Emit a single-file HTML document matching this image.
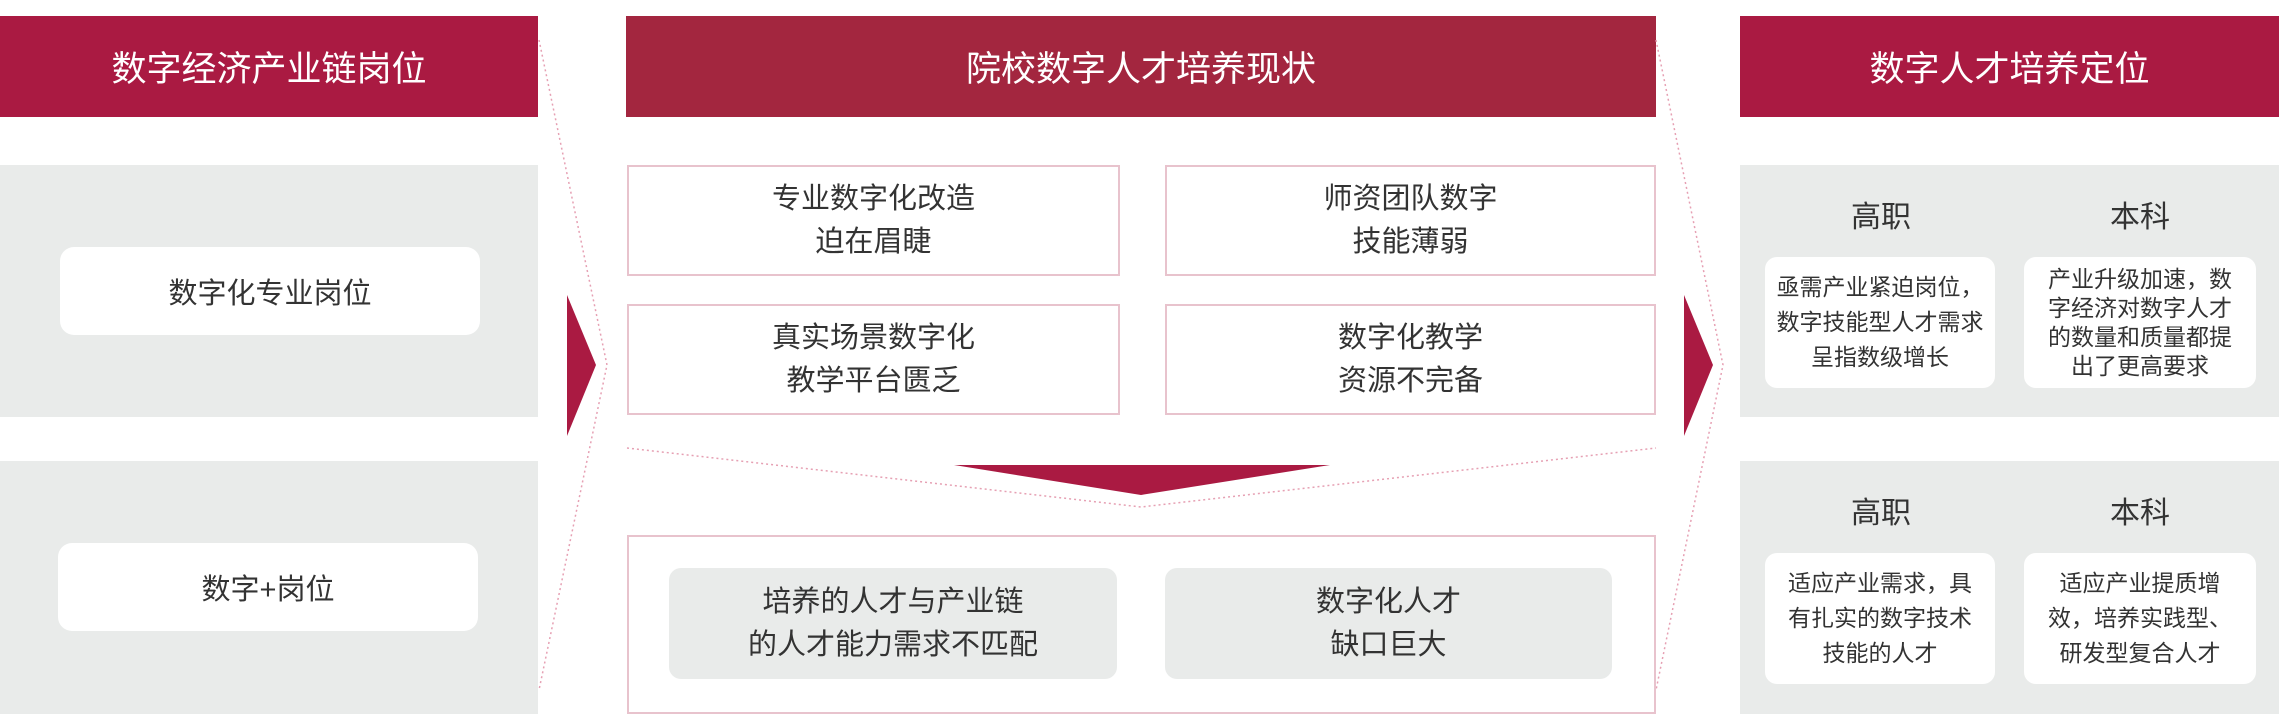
<!DOCTYPE html>
<html><head><meta charset="utf-8"><style>
body{margin:0;width:2279px;height:714px;position:relative;background:#fff;font-family:"Liberation Sans","Noto Sans CJK SC",sans-serif;color:#333;overflow:hidden}
.a{position:absolute;box-sizing:border-box;display:flex;align-items:center;justify-content:center;text-align:center}
.h{background:#aa1a42;color:#fff;font-size:35px}
.g{background:#e9ebea}
.w{background:#fff;border-radius:14px}
.b{border:2px solid #e8c3cd;background:#fff;font-size:29px;line-height:43px}
.gi{background:#e9ebea;border-radius:12px;font-size:29px;line-height:43px}
.t{font-size:30px}
.s{font-size:23px;line-height:35px;background:#fff;border-radius:12px}
</style></head><body>
<div class="a h" style="left:0;top:16px;width:538px;height:101px">数字经济产业链岗位</div>
<div class="a h" style="left:626px;top:16px;width:1030px;height:101px;background:#a3263f">院校数字人才培养现状</div>
<div class="a h" style="left:1740px;top:16px;width:539px;height:101px">数字人才培养定位</div>

<div class="a g" style="left:0;top:165px;width:538px;height:252px"></div>
<div class="a g" style="left:0;top:461px;width:538px;height:253px"></div>
<div class="a w" style="left:60px;top:247px;width:420px;height:88px;font-size:29px">数字化专业岗位</div>
<div class="a w" style="left:58px;top:543px;width:420px;height:88px;font-size:29px">数字+岗位</div>

<svg class="a" style="left:0;top:0" width="2279" height="714">
<polyline points="539,40 607,365 539,690" fill="none" stroke="#e6a0b3" stroke-width="1.5" stroke-dasharray="2,3"/>
<polyline points="1656,40 1723,365 1656,690" fill="none" stroke="#e6a0b3" stroke-width="1.5" stroke-dasharray="2,3"/>
<polyline points="627,448 1141,507 1656,448" fill="none" stroke="#e6a0b3" stroke-width="1.5" stroke-dasharray="2,3"/>
<polygon points="567,295 596,365 567,436" fill="#aa1a42"/>
<polygon points="1684,295 1713,365 1684,436" fill="#aa1a42"/>
<polygon points="954,465 1330,465 1141,495" fill="#aa1a42"/>
</svg>

<div class="a b" style="left:627px;top:165px;width:493px;height:111px">专业数字化改造<br>迫在眉睫</div>
<div class="a b" style="left:1165px;top:165px;width:491px;height:111px">师资团队数字<br>技能薄弱</div>
<div class="a b" style="left:627px;top:304px;width:493px;height:111px">真实场景数字化<br>教学平台匮乏</div>
<div class="a b" style="left:1165px;top:304px;width:491px;height:111px">数字化教学<br>资源不完备</div>
<div class="a b" style="left:627px;top:535px;width:1029px;height:179px"></div>
<div class="a gi" style="left:669px;top:568px;width:448px;height:111px">培养的人才与产业链<br>的人才能力需求不匹配</div>
<div class="a gi" style="left:1165px;top:568px;width:447px;height:111px">数字化人才<br>缺口巨大</div>

<div class="a g" style="left:1740px;top:165px;width:539px;height:252px"></div>
<div class="a g" style="left:1740px;top:461px;width:539px;height:253px"></div>
<div class="a t" style="left:1801px;top:194px;width:160px;height:40px">高职</div>
<div class="a t" style="left:2060px;top:194px;width:160px;height:40px">本科</div>
<div class="a t" style="left:1801px;top:490px;width:160px;height:40px">高职</div>
<div class="a t" style="left:2060px;top:490px;width:160px;height:40px">本科</div>
<div class="a s" style="left:1765px;top:257px;width:230px;height:131px">亟需产业紧迫岗位，<br>数字技能型人才需求<br>呈指数级增长</div>
<div class="a s" style="left:2024px;top:257px;width:232px;height:131px;line-height:29px">产业升级加速，数<br>字经济对数字人才<br>的数量和质量都提<br>出了更高要求</div>
<div class="a s" style="left:1765px;top:553px;width:230px;height:131px">适应产业需求，具<br>有扎实的数字技术<br>技能的人才</div>
<div class="a s" style="left:2024px;top:553px;width:232px;height:131px">适应产业提质增<br>效，培养实践型、<br>研发型复合人才</div>
</body></html>
